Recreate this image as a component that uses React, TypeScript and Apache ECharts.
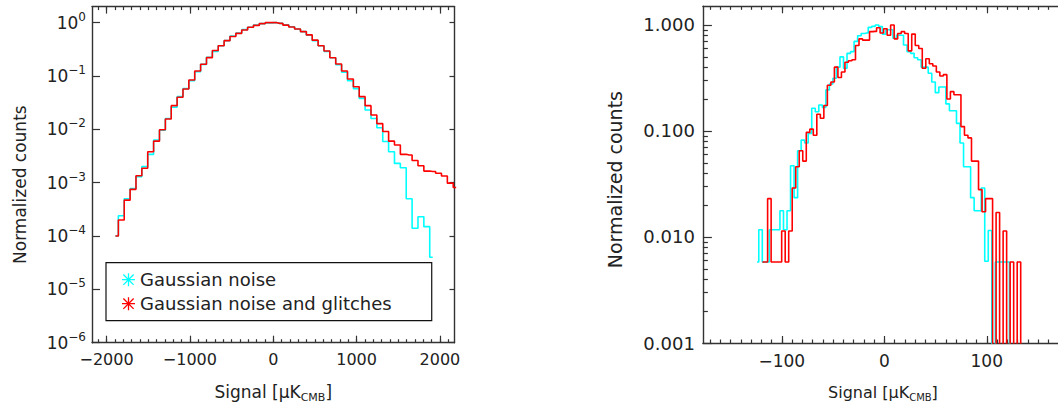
import React, { useEffect, useRef } from 'react';
import * as echarts from 'echarts';

const FONT = '"DejaVu Sans", "Liberation Sans", sans-serif';
const TEXT = '#222';
const FRAME = '#333';
const CYAN = '#00FFFF';
const RED = '#FF0000';

// ---------- left panel: histogram bin centres (μK) and normalized counts ----------
const leftCenters = [
  -1894, -1823.5, -1753, -1682.5, -1612, -1541.5, -1471, -1400.5, -1330, -1259.5,
  -1189, -1118.5, -1048, -977.5, -907, -836.5, -766, -695.5, -625, -554.5,
  -484, -413.5, -343, -272.5, -202, -131.5, -61, 9.5, 80, 150.5,
  221, 291.5, 362, 432.5, 503, 573.5, 644, 714.5, 785, 855.5,
  926, 996.5, 1067, 1137.5, 1208, 1278.5, 1349, 1419.5, 1490, 1560.5,
  1631, 1701.5, 1772, 1842.5, 1913, 1983.5, 2054, 2124.5, 2195,
];
const leftGauss = [
  1.0e-4, 2.4e-4, 5.0e-4, 7.8e-4, 1.3e-3, 2.0e-3, 3.4e-3, 6.3e-3, 9.6e-3, 0.016,
  0.026, 0.041, 0.058, 0.082, 0.12, 0.165, 0.225, 0.29, 0.37, 0.46,
  0.56, 0.64, 0.74, 0.82, 0.9, 0.96, 0.99, 1.0, 0.97, 0.91,
  0.84, 0.76, 0.68, 0.58, 0.46, 0.37, 0.29, 0.22, 0.162, 0.118,
  0.082, 0.058, 0.038, 0.023, 0.016, 0.0107, 0.0059, 0.0038, 0.0023, 0.0019,
  5.0e-4, 1.4e-4, 2.3e-4, 1.5e-4, 4.0e-5,
];
const leftGlitch = [
  1.0e-4, 2.0e-4, 4.7e-4, 7.5e-4, 1.35e-3, 1.86e-3, 3.8e-3, 6.0e-3, 9.8e-3, 0.0156,
  0.0278, 0.04, 0.057, 0.084, 0.124, 0.166, 0.221, 0.3, 0.37, 0.46,
  0.55, 0.63, 0.73, 0.82, 0.89, 0.96, 1.0, 1.0, 0.97, 0.9,
  0.83, 0.76, 0.68, 0.59, 0.47, 0.37, 0.295, 0.22, 0.168, 0.124,
  0.088, 0.063, 0.041, 0.0278, 0.0186, 0.0128, 0.0091, 0.006, 0.0051, 0.0034,
  0.0033, 0.0026, 0.00208, 0.00165, 0.00162, 0.0015, 0.00133, 0.00098, 0.00081,
];

// ---------- right panel ----------
const rightGaussCenters = [
  -124.2, -120.76, -117.31, -113.87, -110.42, -106.98, -103.53, -100.09, -96.64, -93.2,
  -89.75, -86.31, -82.86, -79.42, -75.97, -72.53, -69.08, -65.64, -62.19, -58.75,
  -55.3, -51.86, -48.41, -44.97, -41.52, -38.08, -34.63, -31.19, -27.74, -24.3,
  -20.85, -17.41, -13.96, -10.52, -7.07, -3.63, -0.18, 3.26, 6.71, 10.15,
  13.6, 17.04, 20.49, 23.93, 27.38, 30.82, 34.27, 37.71, 41.16, 44.6,
  48.05, 51.49, 54.94, 58.38, 61.83, 65.27, 68.72, 72.16, 75.61, 79.05,
  82.5, 85.94, 89.39, 92.83, 96.28, 99.72, 103.17, 106.61, 110.06, 113.5,
  116.95, 120.39, 123.84,
];
const rightGauss = [
  0.0058, 0.0117, 0.0058, 0.0058, 0.0117, 0.0117, 0.0117, 0.0177, 0.0117, 0.0177,
  0.047, 0.0235, 0.065, 0.082, 0.077, 0.095, 0.164, 0.152, 0.176, 0.167,
  0.244, 0.277, 0.314, 0.4, 0.5, 0.39, 0.54, 0.56, 0.7, 0.79,
  0.83, 0.84, 0.95, 0.97, 1.0, 0.965, 0.82, 0.9, 0.9, 0.75,
  0.8, 0.8, 0.648, 0.56, 0.54, 0.49, 0.47, 0.4, 0.4, 0.35,
  0.29, 0.23, 0.26, 0.26, 0.18, 0.155, 0.155, 0.118, 0.077, 0.046,
  0.046, 0.0235, 0.0177, 0.0177, 0.029, 0.0059, 0.0115, 0, 0.0058, 0.0058,
  0.0058, 0.0058, 0,
];
const rightGlitchCenters = [
  -119, -115.57, -112.14, -108.71, -105.28, -101.85, -98.42, -94.99, -91.56, -88.13,
  -84.7, -81.27, -77.84, -74.41, -70.98, -67.55, -64.12, -60.69, -57.26, -53.83,
  -50.4, -46.97, -43.54, -40.11, -36.68, -33.25, -29.82, -26.39, -22.96, -19.53,
  -16.1, -12.67, -9.24, -5.81, -2.38, 1.05, 4.48, 7.91, 11.34, 14.77,
  18.2, 21.63, 25.06, 28.49, 31.92, 35.35, 38.78, 42.21, 45.64, 49.07,
  52.5, 55.93, 59.36, 62.79, 66.22, 69.65, 73.08, 76.51, 79.94, 83.37,
  86.8, 90.23, 93.66, 97.09, 100.52, 103.95, 107.38, 110.81, 114.24, 117.67,
  121.1, 124.53, 127.96, 131.39, 134.82,
];
const rightGlitch = [
  0.0058, 0.0058, 0.023, 0.0058, 0.0058, 0.0058, 0.0114, 0.0058, 0.0114, 0.029,
  0.046, 0.065, 0.052, 0.097, 0.104, 0.091, 0.144, 0.132, 0.174, 0.27,
  0.29, 0.4, 0.32, 0.36, 0.445, 0.46, 0.47, 0.64, 0.74, 0.72,
  0.72, 0.865, 0.87, 0.94, 0.84, 0.92, 0.8, 1.0, 0.74, 0.83,
  0.865, 0.83, 0.57, 0.82, 0.64, 0.6, 0.39, 0.48, 0.43, 0.41,
  0.36, 0.33, 0.34, 0.2, 0.235, 0.22, 0.22, 0.11, 0.091, 0.086,
  0.052, 0.052, 0.028, 0.0173, 0.023, 0.023, 0, 0.017, 0, 0.0114,
  0, 0.0058, 0, 0.0058, 0,
];

// ---------- ticks ----------
const leftMajorX = [-2000, -1000, 0, 1000, 2000];
const leftDecades = [-6, -5, -4, -3, -2, -1, 0];
const rightMajorX = [-100, 0, 100];
const rightDecades = [-3, -2, -1, 0];
const seriesNames = ['Gaussian noise', 'Gaussian noise and glitches'];

const leftMinorX: number[] = [];
for (let v = -2100; v <= 2100; v += 100) leftMinorX.push(v);
const rightMinorX: number[] = [];
for (let v = -170; v <= 160; v += 10) rightMinorX.push(v);
const rightMinorY: number[] = [];
for (let e = -3; e <= -1; e++) for (let m = 2; m <= 9; m++) rightMinorY.push(e + Math.log10(m));

const ASTERISK =
  'path://M0 9H20V11H0Z M9 0H11V20H9Z M1.4 2.8L2.8 1.4L18.6 17.2L17.2 18.6Z M17.2 1.4L18.6 2.8L2.8 18.6L1.4 17.2Z';

// one point per bin value
const toPairs = (xs: number[], ys: number[], floor: number) =>
  ys.map((y, i) => [xs[i], y > 0 ? Math.log10(y) : floor]);

const minus = (v: number) => (v < 0 ? '\u2212' + Math.abs(v) : String(v));

function tickAxis(
  gridIndex: number, position: string, min: number, max: number,
  values: number[], length: number, showLine: boolean
): any {
  return {
    type: 'value', gridIndex, position, min, max,
    axisLine: { show: showLine, onZero: false, lineStyle: { color: FRAME, width: 1.4 } },
    axisTick: { show: true, inside: true, length, customValues: values, lineStyle: { color: FRAME, width: 1.2 } },
    axisLabel: { show: false },
    splitLine: { show: false },
    silent: true,
  };
}

const nameRich = (size: number, padLeft: number) => ({
  fontFamily: FONT, fontSize: size, color: TEXT, padding: [0, 0, 0, padLeft],
  rich: { sub: { fontFamily: FONT, fontSize: Math.round(size * 0.62), color: TEXT, padding: [10, 0, 0, 0] } },
});

const LMIN = -2175, LMAX = 2175, LYMIN = -6, LYMAX = Math.log10(2);
const RMIN = -177, RMAX = 169.5, RYMIN = -3, RYMAX = Math.log10(1.5);

export default function App() {
  const ref = useRef<HTMLDivElement>(null);
  useEffect(() => {
    if (!ref.current) return;
    const chart = echarts.init(ref.current, undefined, { renderer: 'svg' });

    const leftXMain = tickAxis(0, 'bottom', LMIN, LMAX, leftMajorX, 7, true);
    leftXMain.axisLabel = {
      show: true, customValues: leftMajorX, formatter: (v: number) => minus(v),
      fontFamily: FONT, fontSize: 16, color: TEXT, margin: 9,
    };
    leftXMain.name = 'Signal [\u03bcK{sub|CMB}]';
    leftXMain.nameLocation = 'middle';
    leftXMain.nameGap = 39;
    leftXMain.nameTextStyle = nameRich(17, 0);

    const rightXMain = tickAxis(1, 'bottom', RMIN, RMAX, rightMajorX, 7, true);
    rightXMain.axisLabel = {
      show: true, customValues: rightMajorX, formatter: (v: number) => minus(v),
      fontFamily: FONT, fontSize: 17, color: TEXT, margin: 9,
    };
    rightXMain.name = 'Signal [\u03bcK{sub|CMB}]';
    rightXMain.nameLocation = 'middle';
    rightXMain.nameGap = 39;
    rightXMain.nameTextStyle = nameRich(16, 5);

    const leftYMain = tickAxis(0, 'left', LYMIN, LYMAX, leftDecades, 8, true);
    leftYMain.axisLabel = {
      show: true, customValues: leftDecades,
      formatter: (v: number) => '10{sup|' + minus(Math.round(v)) + '}',
      fontFamily: FONT, fontSize: 17, color: TEXT, margin: 6,
      rich: { sup: { fontFamily: FONT, fontSize: 12, color: TEXT, padding: [0, 0, 12, 0] } },
    };
    leftYMain.name = 'Normalized counts';
    leftYMain.nameLocation = 'middle';
    leftYMain.nameRotate = 90;
    leftYMain.nameGap = 64;
    leftYMain.nameTextStyle = { fontFamily: FONT, fontSize: 17, color: TEXT, padding: [0, 20, 0, 0] };

    const rightYMain = tickAxis(1, 'left', RYMIN, RYMAX, rightDecades, 9, true);
    rightYMain.axisLabel = {
      show: true, customValues: rightDecades,
      formatter: (v: number) => Math.pow(10, v).toFixed(3),
      fontFamily: FONT, fontSize: 18, color: TEXT, margin: 8,
    };
    rightYMain.name = 'Normalized counts';
    rightYMain.nameLocation = 'middle';
    rightYMain.nameRotate = 90;
    rightYMain.nameGap = 78;
    rightYMain.nameTextStyle = { fontFamily: FONT, fontSize: 19, color: TEXT, padding: [0, 10, 0, 0] };

    const line = (name: string, color: string, xi: number, yi: number, data: number[][]) => ({
      type: 'line', name, xAxisIndex: xi, yAxisIndex: yi, data, step: 'middle',
      showSymbol: false, symbol: 'none', color, itemStyle: { color },
      lineStyle: { color, width: 1.6 }, clip: true, silent: true, z: 2,
    });

    chart.setOption({
      animation: false,
      backgroundColor: '#fff',
      textStyle: { fontFamily: FONT },
      grid: [
        { left: 92, top: 6.6, width: 362.5, height: 336.1 },
        { left: 702.9, top: 6.3, width: 355.2, height: 336.7 },
      ],
      xAxis: [
        leftXMain,
        tickAxis(0, 'bottom', LMIN, LMAX, leftMinorX, 3.5, false),
        tickAxis(0, 'top', LMIN, LMAX, leftMajorX, 7, true),
        tickAxis(0, 'top', LMIN, LMAX, leftMinorX, 3.5, false),
        rightXMain,
        tickAxis(1, 'bottom', RMIN, RMAX, rightMinorX, 3.5, false),
        tickAxis(1, 'top', RMIN, RMAX, rightMajorX, 7, true),
        tickAxis(1, 'top', RMIN, RMAX, rightMinorX, 3.5, false),
      ],
      yAxis: [
        leftYMain,
        tickAxis(0, 'right', LYMIN, LYMAX, leftDecades, 5, true),
        rightYMain,
        tickAxis(1, 'left', RYMIN, RYMAX, rightMinorY, 5, false),
      ],
      legend: {
        data: seriesNames.map((n) => ({ name: n, icon: ASTERISK })),
        orient: 'vertical', left: 106, top: 262.7,
        itemWidth: 13, itemHeight: 13, itemGap: 6,
        padding: [8, 40, 8, 16],
        borderColor: '#111', borderWidth: 1.2, borderRadius: 0, backgroundColor: '#fff',
        textStyle: { fontFamily: FONT, fontSize: 18, color: TEXT, lineHeight: 18 },
        selectedMode: false, z: 10,
      },
      series: [
        line(seriesNames[0], CYAN, 0, 0, toPairs(leftCenters, leftGauss, -8)),
        line(seriesNames[1], RED, 0, 0, toPairs(leftCenters, leftGlitch, -8)),
        line(seriesNames[0], CYAN, 4, 2, toPairs(rightGaussCenters, rightGauss, -4)),
        line(seriesNames[1], RED, 4, 2, toPairs(rightGlitchCenters, rightGlitch, -4)),
      ],
    });
    return () => chart.dispose();
  }, []);
  return (
    <div
      ref={ref}
      style={{ position: 'absolute', left: 0, top: 0, width: 1058, height: 410, background: '#fff' }}
    />
  );
}
